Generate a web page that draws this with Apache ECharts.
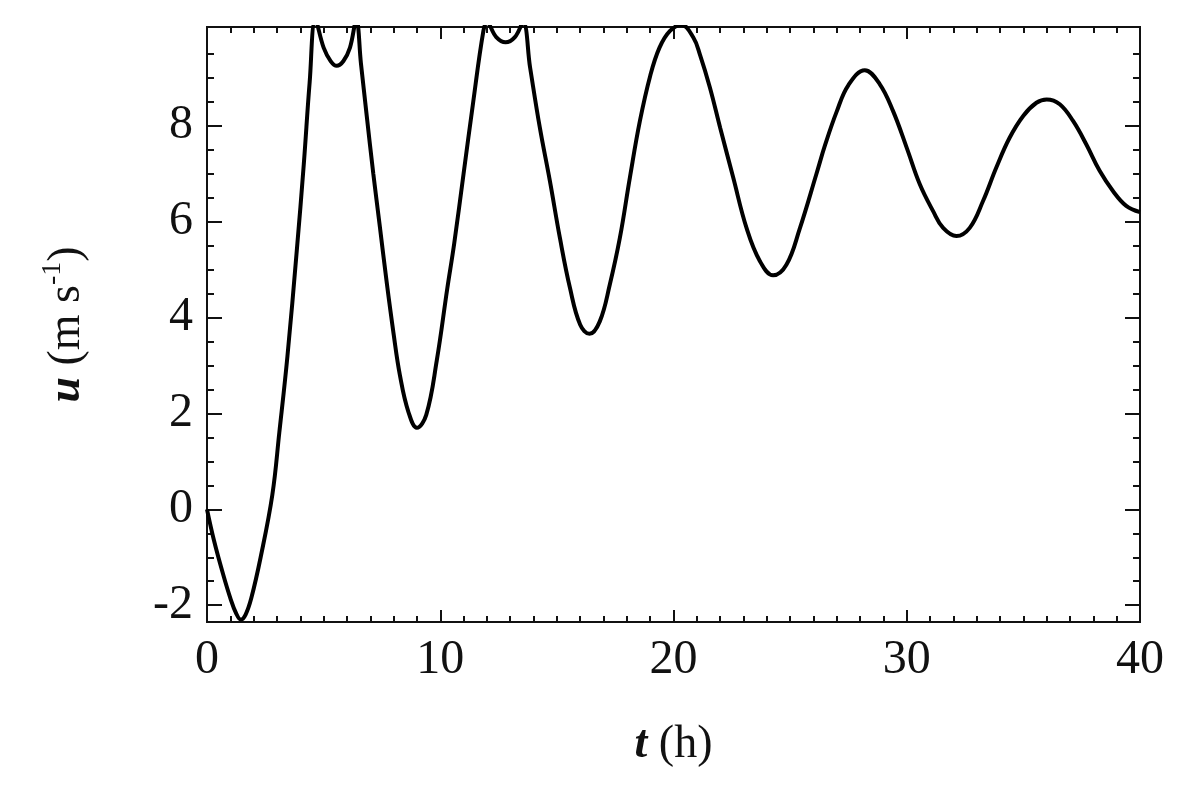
<!DOCTYPE html>
<html lang="en">
<head>
    <meta charset="UTF-8">
    <title>u(t)</title>
    <style>
        html, body { margin: 0; padding: 0; background: #fff; }
        #main { width: 1200px; height: 792px; }
    </style>
</head>
<body>
    <div id="main"></div>
</body>
<script src="https://cdn.jsdelivr.net/npm/echarts@6/dist/echarts.min.js"></script>
<script>
    // values (t in h, u in m/s); peaks above the frame get clipped
    var hours = [0, 0.3, 0.7, 1.0, 1.25, 1.45, 1.65, 1.9, 2.3, 2.8, 3.1, 3.45, 3.85, 4.15, 4.4, 4.65,
        5.0, 5.3, 5.56, 5.85, 6.13, 6.4, 6.6, 6.85, 7.13, 7.41, 7.7, 8.0, 8.27, 8.63, 9.0, 9.4, 9.85,
        10.3, 10.6, 11.0, 11.4, 11.85, 12.0, 12.4, 12.8, 13.2, 13.55, 13.85, 14.27, 14.7,
        15.13, 15.56, 16.0, 16.4, 16.84, 17.27, 17.7, 18.13, 18.56, 19.0, 19.4, 19.85,
        20.35, 20.85, 21.13, 21.56, 22.0, 22.56, 23.13, 23.7, 24.27, 24.84, 25.41,
        26.13, 26.5, 27.0, 27.5, 28.2, 28.84, 29.41, 30.0, 30.56, 31.13, 31.56, 32.13,
        32.7, 33.27, 33.84, 34.41, 35.0, 35.56, 36.0, 36.56, 37.13, 37.7, 38.27, 38.84,
        39.41, 40.0];
    var speed = [0, -0.65, -1.37, -1.85, -2.17, -2.3, -2.2, -1.85, -1.0, 0.3, 1.6, 3.2, 5.4, 7.2, 8.9, 10.2,
        9.63, 9.35, 9.25, 9.35, 9.63, 10.2, 9.3, 8.2, 7.0, 5.9, 4.75, 3.66, 2.8, 2.04, 1.7, 1.97, 3.1,
        4.6, 5.55, 7.0, 8.45, 9.98, 10.15, 9.85, 9.74, 9.85, 10.15, 9.22, 7.96, 6.85,
        5.66, 4.62, 3.85, 3.66, 3.92, 4.69, 5.66, 6.92, 8.10, 9.04, 9.63, 9.98,
        10.1, 9.84, 9.49, 8.80, 7.96, 6.92, 5.87, 5.18, 4.88, 5.1, 5.85,
        7.0, 7.6, 8.3, 8.85, 9.16, 8.87, 8.31, 7.54, 6.78, 6.22, 5.87, 5.70,
        5.87, 6.43, 7.13, 7.75, 8.21, 8.48, 8.55, 8.45, 8.10, 7.61, 7.06, 6.64,
        6.33, 6.2];
    var yMajor = [-2, 0, 2, 4, 6, 8];
    var yMinor = [-2, -1.5, -1, -0.5, 0, 0.5, 1, 1.5, 2, 2.5, 3, 3.5, 4, 4.5, 5, 5.5,
        6, 6.5, 7, 7.5, 8, 8.5, 9, 9.5];

    var font = '"Liberation Serif", "Times New Roman", serif';
    var ink = '#111';
    var data = hours.map(function (t, i) { return [t, speed[i]]; });

    function xAxisOf(pos, labels) {
        return {
            type: 'value', position: pos, min: 0, max: 40, interval: 10,
            name: labels ? '{b|t}{n| (h)}' : '',
            nameLocation: 'middle', nameGap: 100,
            nameTextStyle: {
                rich: {
                    b: { fontFamily: font, fontSize: 46, fontWeight: 'bold', fontStyle: 'italic', color: ink },
                    n: { fontFamily: font, fontSize: 46, color: ink }
                }
            },
            axisLine: { show: true, onZero: false, lineStyle: { color: ink, width: 2 } },
            axisTick: { show: true, inside: true, length: 12, lineStyle: { color: ink, width: 2 } },
            minorTick: { show: true, splitNumber: 10, length: 6, lineStyle: { color: ink, width: 2 } },
            axisLabel: { show: labels, fontFamily: font, fontSize: 48, color: ink, margin: 14 },
            splitLine: { show: false }
        };
    }

    function yAxisOf(pos, ticks, len, labels) {
        return {
            type: 'value', position: pos, min: -2.35, max: 10.06,
            name: labels ? '{b|u}{n| (m s}{s|-1}{n|)}' : '',
            nameLocation: 'middle', nameGap: 112, nameRotate: 90,
            nameTextStyle: {
                rich: {
                    b: { fontFamily: font, fontSize: 46, fontWeight: 'bold', fontStyle: 'italic', color: ink, lineHeight: 56 },
                    n: { fontFamily: font, fontSize: 46, color: ink, lineHeight: 56 },
                    s: { fontFamily: font, fontSize: 28, color: ink, lineHeight: 30, verticalAlign: 'top' }
                }
            },
            axisLine: { show: true, onZero: false, lineStyle: { color: ink, width: 2 } },
            axisTick: { show: true, inside: true, length: len, customValues: ticks, lineStyle: { color: ink, width: 2 } },
            axisLabel: { show: labels, customValues: yMajor, fontFamily: font, fontSize: 48, color: ink, margin: 14 },
            splitLine: { show: false }
        };
    }

    var main = echarts.init(document.getElementById('main'));
    var option = {
        backgroundColor: '#fff',
        animation: false,
        grid: { left: 207, right: 60, top: 27, bottom: 170, outerBoundsMode: 'none' },
        xAxis: [xAxisOf('bottom', true), xAxisOf('top', false)],
        yAxis: [
            yAxisOf('left', yMajor, 15, true),
            yAxisOf('left', yMinor, 7, false),
            yAxisOf('right', yMajor, 15, false),
            yAxisOf('right', yMinor, 7, false)
        ],
        series: [{
            type: 'line',
            data: data,
            smooth: 0.4,
            clip: true,
            showSymbol: false,
            lineStyle: { color: '#000', width: 4 }
        }]
    };
    main.setOption(option);
</script>
</html>
